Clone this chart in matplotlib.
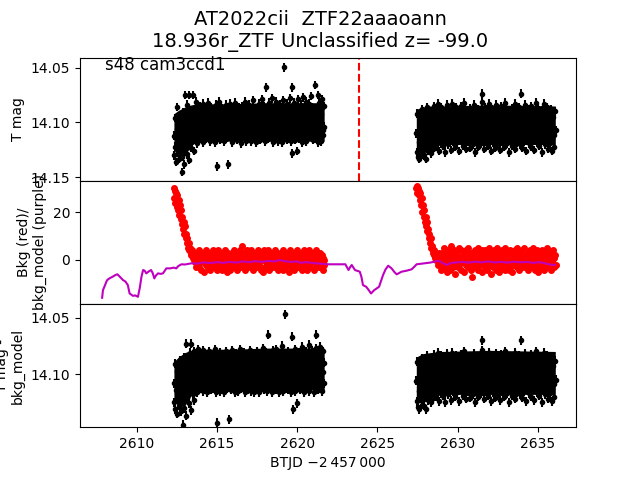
import numpy as np
import matplotlib
matplotlib.use("Agg")
import matplotlib.pyplot as plt

# ---------------- data ----------------
title = "AT2022cii  ZTF22aaaoann\n18.936r_ZTF Unclassified z= -99.0"
sector_label = "s48 cam3ccd1"
event_time = 2623.86

seg1_start, seg1_end = 2612.30, 2621.70
seg2_start, seg2_end = 2627.40, 2636.10
mag_ref = 14.100
mag_err = 0.004

# T mag, millimag offsets from 14.100 (positive = fainter)
tmag_seg1_mmag = [
    12, 30, -4, 22, 36, 6, -14, 27, 18, 33,
    -2, 24, 9, 45, 31, -9, 16, 38, -25, 20,
    4, 29, -16, 14, 34, -25, 8, 23, -11, 17,
    -25, 11, 26, -6, 15, -19, 3, 19, -13, 8,
    -3, 16, -15, 10, 1, -9, 18, -17, 6, 13,
    -7, 2, 15, -12, 9, -18, 11, -4, 17, 0,
    -14, 7, -1, 14, -10, 18, 4, -16, 12, 40,
    -5, 9, -19, 16, -8, 3, 13, -13, 6, -2,
    17, -11, 10, -16, 1, 14, 38, -7, 8, -17,
    12, -3, 18, -12, 5, -9, 15, 0, -18, 10,
    -6, 16, 3, -14, 11, -1, 19, -10, 7, -15,
    13, -4, 9, -19, 17, 2, -12, 14, -7, 6,
    -16, 11, 0, 17, -9, 4, -20, 15, -3, 10,
    -13, 18, 5, -8, 12, -17, 1, 16, -11, 8,
    -21, 14, -2, 9, -15, 17, 3, -32, 11, -6,
    15, -18, 6, -10, 13, 0, -22, 18, -5, 9,
    -14, 16, 2, -19, 12, -8, 17, -3, 7, -16,
    10, -11, 18, -20, 4, -50, 14, -6, 9, -17,
    16, 1, -13, 12, -22, 7, 17, -32, 28, -9,
    13, -18, 4, 16, -12, 9, 26, -21, 2, 15,
    -7, 11, -16, 18, 0, -23, 13, -4, 8, -19,
    17, -10, 5, 14, -17, 10, -2, -24, 12, 3,
    -14, 16, -6, 9, -34, 15, -12, 6, 18, -25,
    1, -18, 13, -8, 17, -21, 7, 11, -15, 4,
]
tmag_seg2_mmag = [
    10, 27, -8, 31, 18, 33, -3, 22, 5, 29,
    -12, 25, 14, 30, -6, 33, 8, 19, -14, 26,
    2, 21, -10, 16, 28, -4, 12, 24, -15, 18,
    7, -11, 22, 0, 15, -17, 26, 9, -6, 19,
    -14, 12, 3, 21, -9, 16, 27, -2, 10, -16,
    20, 5, -12, 14, -4, 25, 8, -17, 17, 1,
    -8, 22, 11, -14, 18, 4, -10, 26, 13, -3,
    16, -15, 7, 21, -6, 12, -18, 19, 2, 24,
    -11, 9, 17, -1, 23, -13, 6, 15, -7, 20,
    0, -16, 13, 27, -5, 18, 8, -12, 22, 3,
    -9, 14, 19, -19, -26, 11, -3, 24, 6, -14,
    17, 1, -8, 21, 10, -17, 15, -2, 26, 7,
    -12, 18, 4, -6, 23, 12, -16, 9, 20, -4,
    14, -10, 25, 2, -15, 17, 6, -7, 22, 11,
    -18, 13, 0, 19, -11, 8, 27, -5, 16, 3,
    -13, 21, 10, -2, 15, -17, 24, 5, -8, 18,
    1, -14, 12, 20, -26, 7, -9, 23, 14, -3,
    17, -16, 9, 26, -6, 11, -12, 19, 4, -1,
    22, -15, 13, 6, -9, 25, 0, 16, -18, 10,
    18, -4, -13, 21, 8, -7, 14, 27, -11, 3,
    12, -17, 20, 5, -2, 16, -14, 24, 9, -8,
    19, 1, -12, 15, 26, -5, 11, 22, -10, 7,
]

# T mag - bkg_model, millimag offsets from 14.100
corr_seg1_mmag = [
    8, 25, -9, 31, 14, 35, -3, 20, 2, 28,
    -12, 17, 33, 6, 24, 45, -15, 30, 11, 37,
    -27, 21, 5, -10, 26, 15, -19, 32, -27, 9,
    18, -7, 23, -20, 12, -14, 4, 16, -22, 7,
    -11, 14, 0, -18, 10, -5, 15, -21, 3, 12,
    -16, 8, -2, 16, -12, 5, -20, 11, -7, 14,
    -1, -17, 9, 13, -9, 2, -22, 16, 6, 43,
    -13, 10, -4, 15, -19, 4, 12, -8, -15, 7,
    16, -11, 1, -20, 13, -6, 9, -16, 40, 3,
    -10, 14, -21, 6, 11, -3, -14, 16, 0, -18,
    9, -7, 15, -12, 4, -22, 13, -1, 8, -17,
    12, -5, -19, 16, 2, -11, 10, -15, 14, -8,
    5, -21, 15, -3, 11, -13, 7, -18, 16, 0,
    -9, 13, -20, 4, 10, -14, 16, -6, 2, -17,
    12, -2, -23, 14, 6, -11, 9, -19, 15, -5,
    -35, 11, -16, 3, 13, -9, 16, -21, 5, -4,
    10, -15, 14, -22, 1, 12, -7, 16, -18, 6,
    -12, 9, -25, 15, -3, 11, -53, 4, -16, 13,
    -8, 14, -20, 2, 10, -14, 16, -6, -33, 31,
    -11, 8, -22, 15, 3, -17, 26, -4, 12, -19,
    14, -9, 6, -24, 11, -1, 16, -15, 5, -20,
    13, -6, 9, -18, 15, -26, 2, -11, 10, -21,
    7, -14, 16, -4, 12, -23, -35, 9, -17, 14,
    -8, 4, -24, 11, -13, 15, -2, -20, 8, -10,
]
corr_seg2_mmag = [
    6, 24, -11, 29, 15, 31, -5, 19, 3, 27,
    -14, 22, 11, 28, -8, 31, 5, 17, -16, 23,
    0, 19, -12, 13, 25, -6, 9, 21, -17, 16,
    4, -13, 20, -2, 13, -19, 24, 7, -8, 17,
    -16, 10, 1, 19, -11, 14, 25, -4, 8, -18,
    18, 3, -14, 12, -6, 23, 6, -19, 15, -1,
    -10, 20, 9, -16, 16, 2, -12, 24, 11, -5,
    14, -17, 5, 19, -8, 10, -20, 17, 0, 22,
    -13, 7, 15, -3, 21, -15, 4, 13, -9, 18,
    -2, -18, 11, 25, -7, 16, 6, -14, 20, 1,
    -11, 12, 17, -21, -30, 9, -5, 22, 4, -16,
    15, -1, -10, 19, 8, -19, 13, -4, 24, 5,
    -14, 16, 2, -8, 21, 10, -18, 7, 18, -6,
    12, -12, 23, 0, -17, 15, 4, -9, 20, 9,
    -20, 11, -2, 17, -13, 6, 25, -7, 14, 1,
    -15, 19, 8, -4, 13, -19, 22, 3, -10, 16,
    -1, -16, 10, 18, -30, 5, -11, 21, 12, -5,
    15, -18, 7, 24, -8, 9, -14, 17, 2, -3,
    20, -17, 11, 4, -11, 23, -2, 14, -20, 8,
    16, -6, -15, 19, 6, -9, 12, 25, -13, 1,
    10, -19, 18, 3, -4, 14, -16, 22, 7, -10,
    17, -1, -14, 13, 24, -7, 9, 20, -12, 5,
]

# dense core of the light-curve cloud (where the points merge into a solid band)
core_t_seg1 = [2612.32, 2612.60, 2613.00, 2613.40, 2613.80, 2616.00, 2618.00, 2620.00, 2621.68]
core_lo_seg1 = [14.092, 14.089, 14.086, 14.084, 14.083, 14.083, 14.082, 14.082, 14.082]
core_hi_seg1 = [14.125, 14.131, 14.130, 14.121, 14.117, 14.117, 14.117, 14.117, 14.117]
core_t_seg2 = [2627.42, 2627.80, 2628.30, 2629.00, 2632.00, 2636.08]
core_lo_seg2 = [14.088, 14.086, 14.085, 14.085, 14.084, 14.085]
core_hi_seg2 = [14.127, 14.129, 14.123, 14.120, 14.120, 14.120]
corr_core_lo_seg1 = [14.089, 14.085, 14.081, 14.079, 14.078, 14.078, 14.077, 14.077, 14.077]
corr_core_hi_seg1 = [14.123, 14.129, 14.128, 14.119, 14.115, 14.115, 14.114, 14.114, 14.114]
corr_core_lo_seg2 = [14.085, 14.082, 14.081, 14.080, 14.079, 14.080]
corr_core_hi_seg2 = [14.124, 14.126, 14.121, 14.118, 14.118, 14.118]

# background (red), per cadence
bkg_seg1 = [
    30, 26, 29, 24, 28, 22, 27, 21, 25, 19,
    23, 17, 21, 15, 18, 13, 16, 11, 14, 9,
    11, 7, 9, 5, 7, 4, 5, 2, 3, 4,
    1, 3, 0, 2, -1, 1, -3, 3, -2, 1,
    4, -3, 0, 2, -4, 3, -1, 1, -5, 2,
    0, 4, -2, 3, -3, 1, -1, 2, -4, 3,
    1, -2, 4, -3, 0, 2, -1, 3, -4, 1,
    -2, 4, 0, -3, 2, 1, -4, 3, -1, 0,
    2, -3, 4, -1, 1, -5, 3, 0, -2, 2,
    -4, 1, 3, -2, 0, 4, -3, 2, -1, 1,
    3, -4, 0, 2, -2, 4, 1, -3, 2, 6,
    -1, 0, 3, -4, 1, 2, -2, 4, -3, 0,
    2, -1, 4, -3, 1, 0, -4, 3, -2, 2,
    0, 3, -3, 1, 4, -2, -1, 2, -4, 3,
    1, -5, 2, 0, 4, -3, 1, -1, 3, -2,
    4, -4, 0, 2, -2, 3, 1, -3, 2, -1,
    0, 4, -3, 1, 2, -4, 3, -1, 0, 2,
    -2, 3, 1, -4, 4, 0, -3, 2, -1, 1,
    3, -2, 0, -5, 2, 4, -3, 1, -1, 3,
    -4, 2, 0, 3, -2, 1, 4, -3, 2, -1,
    1, -3, 3, 0, -4, 2, 4, -2, 1, -1,
    3, -4, 0, 2, -2, 4, -3, 1, 0, 2,
    -1, 3, -4, 1, 2, -3, 4, 0, -2, 1,
    2, -3, 3, -1, 0, 2, -4, 1, -2, 0,
]
bkg_seg2 = [
    30, 31, 28, 30, 27, 29, 25, 28, 23, 26,
    20, 23, 18, 21, 16, 18, 14, 16, 12, 13,
    9, 11, 7, 9, 5, 6, 4, 3, 2, 4,
    1, 3, 0, 2, -2, 1, 3, -1, 0, 2,
    -4, 3, 1, -2, 5, 0, -3, 2, -5, 4,
    1, -2, 3, -4, 0, 6, -1, 2, -3, 4,
    -1, 1, -6, 3, 0, 2, -3, 5, -2, 1,
    4, -4, 0, 2, -1, -5, 3, 1, -2, 4,
    0, -3, 5, 1, -1, 2, -4, 3, -7, 1,
    2, -2, 4, 0, -3, 3, -1, 5, -4, 1,
    -2, 3, 0, -5, 4, 1, -1, 2, -3, 4,
    0, -4, 3, 1, -2, 5, -1, 2, -6, 3,
    1, -3, 4, 0, -2, 2, -4, 5, -1, 1,
    3, -5, 0, 2, -3, 4, 1, -1, 2, -4,
    5, 0, -2, 3, -1, 1, -4, 4, -3, 2,
    0, -5, 3, 1, -2, 4, -1, 2, -3, 5,
    -1, 1, -4, 3, 0, 2, -3, 4, -2, 1,
    5, -3, 0, 2, -1, -4, 3, 1, -2, 4,
    0, -3, 2, 5, -1, 1, -4, 3, -2, 0,
    4, -5, 1, 2, -3, 3, 0, -1, 4, -2,
    1, -4, 3, 0, 2, -3, 5, -1, 1, -2,
    3, -4, 2, 0, -1, 4, -3, 1, 2, -2,
]

# background model (purple)
model_t = [
    2607.85, 2607.90, 2608.00, 2608.15, 2608.30, 2608.50, 2608.70, 2608.80,
    2608.95, 2609.15, 2609.30, 2609.45, 2609.56, 2609.77, 2609.90, 2610.08,
    2610.19, 2610.30, 2610.40, 2610.50, 2610.60, 2610.75, 2610.90, 2611.00,
    2611.10, 2611.20, 2611.33, 2611.50, 2611.64, 2611.75, 2611.85, 2612.10,
    2612.30, 2612.47, 2612.60, 2612.79, 2613.00, 2613.40, 2613.80, 2614.20,
    2614.60, 2615.00, 2615.40, 2615.80, 2616.20, 2616.60, 2617.00, 2617.40,
    2617.80, 2618.20, 2618.60, 2618.90, 2619.20, 2619.60, 2620.00, 2620.20,
    2620.60, 2621.00, 2621.40, 2621.85, 2622.50, 2623.00, 2623.20, 2623.30,
    2623.40, 2623.60, 2623.90, 2624.00, 2624.10, 2624.30, 2624.45, 2624.60,
    2624.80, 2625.10, 2625.35, 2625.50, 2625.67, 2625.88, 2626.05, 2626.20,
    2626.50, 2626.80, 2627.13, 2627.30, 2627.44, 2627.80, 2628.27, 2628.50,
    2628.80, 2629.00, 2629.30, 2629.60, 2630.00, 2630.30, 2630.70, 2631.10,
    2631.50, 2631.90, 2632.30, 2632.70, 2633.10, 2633.50, 2633.90, 2634.30,
    2634.70, 2635.10, 2635.50, 2635.90, 2636.05,
]
model_v = [
    -15.8, -12.6, -11.0, -8.5, -7.7, -7.0, -6.2, -6.0,
    -7.0, -8.4, -9.0, -10.5, -14.0, -15.0, -14.8, -15.4,
    -11.8, -7.0, -4.2, -4.5, -5.6, -4.8, -4.2, -5.5,
    -7.7, -6.5, -5.6, -5.8, -5.6, -4.5, -3.5, -3.5,
    -3.2, -3.5, -2.5, -1.8, -1.9, -1.4, -1.5, -1.0,
    -1.3, -0.9, -1.2, -0.8, -1.1, -0.6, -0.9, -0.5,
    -0.8, -0.4, -0.6, 0.0, -0.5, -0.8, -0.6, -1.2,
    -0.9, -1.3, -1.5, -1.8, -1.8, -1.8, -4.2, -3.0,
    -2.1, -4.2, -4.9, -7.0, -10.5, -11.2, -12.5, -14.0,
    -12.6, -11.2, -6.3, -4.0, -2.4, -3.5, -5.0, -6.0,
    -4.9, -4.5, -3.9, -2.8, -1.8, -1.5, -1.1, -0.8,
    -0.3, -1.0, -2.1, -1.2, -1.0, -0.8, -1.1, -0.7,
    -1.0, -0.6, -1.0, -0.8, -1.1, -0.7, -1.0, -0.8,
    -1.2, -0.9, -1.5, -2.1, -2.0,
]

# ---------------- plotting ----------------
t1 = np.linspace(seg1_start, seg1_end, len(tmag_seg1_mmag))
t2 = np.linspace(seg2_start, seg2_end, len(tmag_seg2_mmag))

fig, axes = plt.subplots(3, 1, sharex=True, figsize=(6.4, 4.8), dpi=100)
fig.subplots_adjust(hspace=0)
ax1, ax2, ax3 = axes

eb_kw = dict(fmt='o', color='k', ms=3, elinewidth=1.5, capsize=0)

ax1.fill_between(core_t_seg1, core_lo_seg1, core_hi_seg1, color='k', lw=0)
ax1.fill_between(core_t_seg2, core_lo_seg2, core_hi_seg2, color='k', lw=0)
for t, m in ((t1, tmag_seg1_mmag), (t2, tmag_seg2_mmag)):
    ax1.errorbar(t, mag_ref + np.asarray(m) / 1000.0, yerr=mag_err, **eb_kw)
ax1.axvline(event_time, color='r', ls='--', lw=1.5)
ax1.set_ylim(14.153, 14.041)
ax1.set_yticks([14.05, 14.10, 14.15])
ax1.set_ylabel("T mag")
ax1.text(0.05, 0.9, sector_label, transform=ax1.transAxes, fontsize=12)

ax2.plot(np.linspace(seg1_start, seg1_end, len(bkg_seg1)), bkg_seg1, 'o',
         color='r', ms=4)
ax2.plot(np.linspace(seg2_start, seg2_end, len(bkg_seg2)), bkg_seg2, 'o',
         color='r', ms=4)
ax2.plot(model_t, model_v, color='m', lw=1.5)
ax2.set_ylim(-18.4, 33.1)
ax2.set_yticks([0, 20])
ax2.set_ylabel("Bkg (red)/\nbkg_model (purple)")

ax3.fill_between(core_t_seg1, corr_core_lo_seg1, corr_core_hi_seg1, color='k', lw=0)
ax3.fill_between(core_t_seg2, corr_core_lo_seg2, corr_core_hi_seg2, color='k', lw=0)
for t, m in ((t1, corr_seg1_mmag), (t2, corr_seg2_mmag)):
    ax3.errorbar(t, mag_ref + np.asarray(m) / 1000.0, yerr=mag_err, **eb_kw)
ax3.set_ylim(14.147, 14.038)
ax3.set_yticks([14.05, 14.10])
ax3.set_ylabel("T mag -\nbkg_model")
ax3.set_xlabel("BTJD \u22122\u2009457\u2009000")
ax3.set_xlim(2606.47, 2637.37)
ax3.set_xticks([2610, 2615, 2620, 2625, 2630, 2635])

fig.suptitle(title, fontsize=14)
fig.savefig("out.png", dpi=100)
